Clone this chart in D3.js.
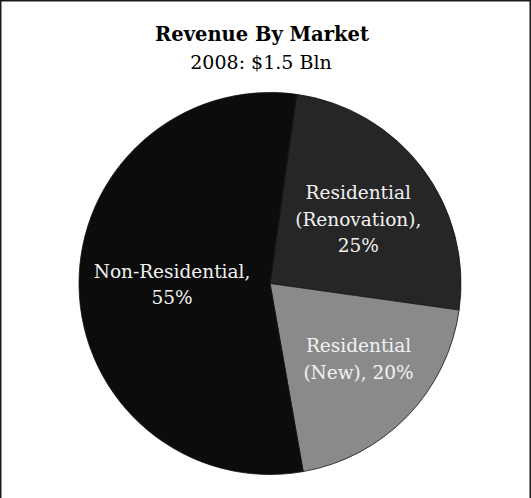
<!DOCTYPE html>
<html>
<head>
<meta charset="utf-8">
<script src="https://cdn.jsdelivr.net/npm/d3@7"></script>
<style>
  html, body { margin: 0; padding: 0; background: #fff; }
  svg { display: block; }
  text { font-family: "DejaVu Serif", "Liberation Serif", serif; }
</style>
</head>
<body>
<svg id="chart" width="531" height="498"></svg>
<script>
// Revenue split by market, 2008
const title = "Revenue By Market";
const subtitle = "2008: $1.5 Bln";
const categories = ["Residential (Renovation)", "Residential (New)", "Non-Residential"];
const values = [25, 20, 55];
// how each category name is broken into label lines
const nameLines = [["Residential", "(Renovation),"], ["Residential", "(New),"], ["Non-Residential,"]];
// whether the percentage sits on its own line
const pctOwnLine = [true, false, true];
const colors = ["#262626", "#8a8a8a", "#0c0c0c"];

const W = 531, H = 498;
const svg = d3.select("#chart");

// frame
svg.append("rect")
  .attr("x", 0.75).attr("y", 0.75)
  .attr("width", 529.5).attr("height", 500)
  .attr("fill", "none").attr("stroke", "#1a1a1a").attr("stroke-width", 1.5);

svg.append("text")
  .attr("x", 262).attr("y", 40.5)
  .attr("text-anchor", "middle")
  .attr("font-size", 19.5).attr("font-weight", "bold").attr("fill", "#000")
  .text(title);
svg.append("text")
  .attr("x", 261).attr("y", 68.5)
  .attr("text-anchor", "middle")
  .attr("font-size", 19).attr("fill", "#000")
  .text(subtitle);

const cx = 270, cy = 283.5, R = 191;
const total = d3.sum(values);
const startOffset = 8 * Math.PI / 180;

const pie = d3.pie().sort(null).value(d => d)
  .startAngle(startOffset).endAngle(startOffset + 2 * Math.PI);
const arcs = pie(values);
const arc = d3.arc().innerRadius(0).outerRadius(R);
// label anchor radius per slice, plus a small sideways nudge
const labelRadius = [108, 112, 98];
const labelNudge = [[2, 1], [8, -2], [0, 0]];

const g = svg.append("g").attr("transform", `translate(${cx},${cy})`);
g.selectAll("path.slice").data(arcs).join("path")
  .attr("class", "slice")
  .attr("d", arc)
  .attr("fill", (d, i) => colors[i])
  .attr("stroke", "#111").attr("stroke-width", 0.8);

const lineH = 26.5;
arcs.forEach((d, i) => {
  const pct = Math.round(d.value / total * 100) + "%";
  const lines = nameLines[i].slice();
  if (pctOwnLine[i]) lines.push(pct);
  else lines[lines.length - 1] += " " + pct;
  const la = d3.arc().innerRadius(labelRadius[i]).outerRadius(labelRadius[i]);
  let [lx, ly] = la.centroid(d);
  lx += labelNudge[i][0];
  ly += labelNudge[i][1];
  const t = g.append("text")
    .attr("text-anchor", "middle")
    .attr("font-size", 18.5)
    .attr("fill", "#f2f2f2")
    .attr("aria-label", categories[i]);
  const y0 = ly - (lines.length - 1) * lineH / 2 + 6;
  lines.forEach((s, k) => {
    t.append("tspan").attr("x", lx).attr("y", y0 + k * lineH).text(s);
  });
});
</script>
</body>
</html>
